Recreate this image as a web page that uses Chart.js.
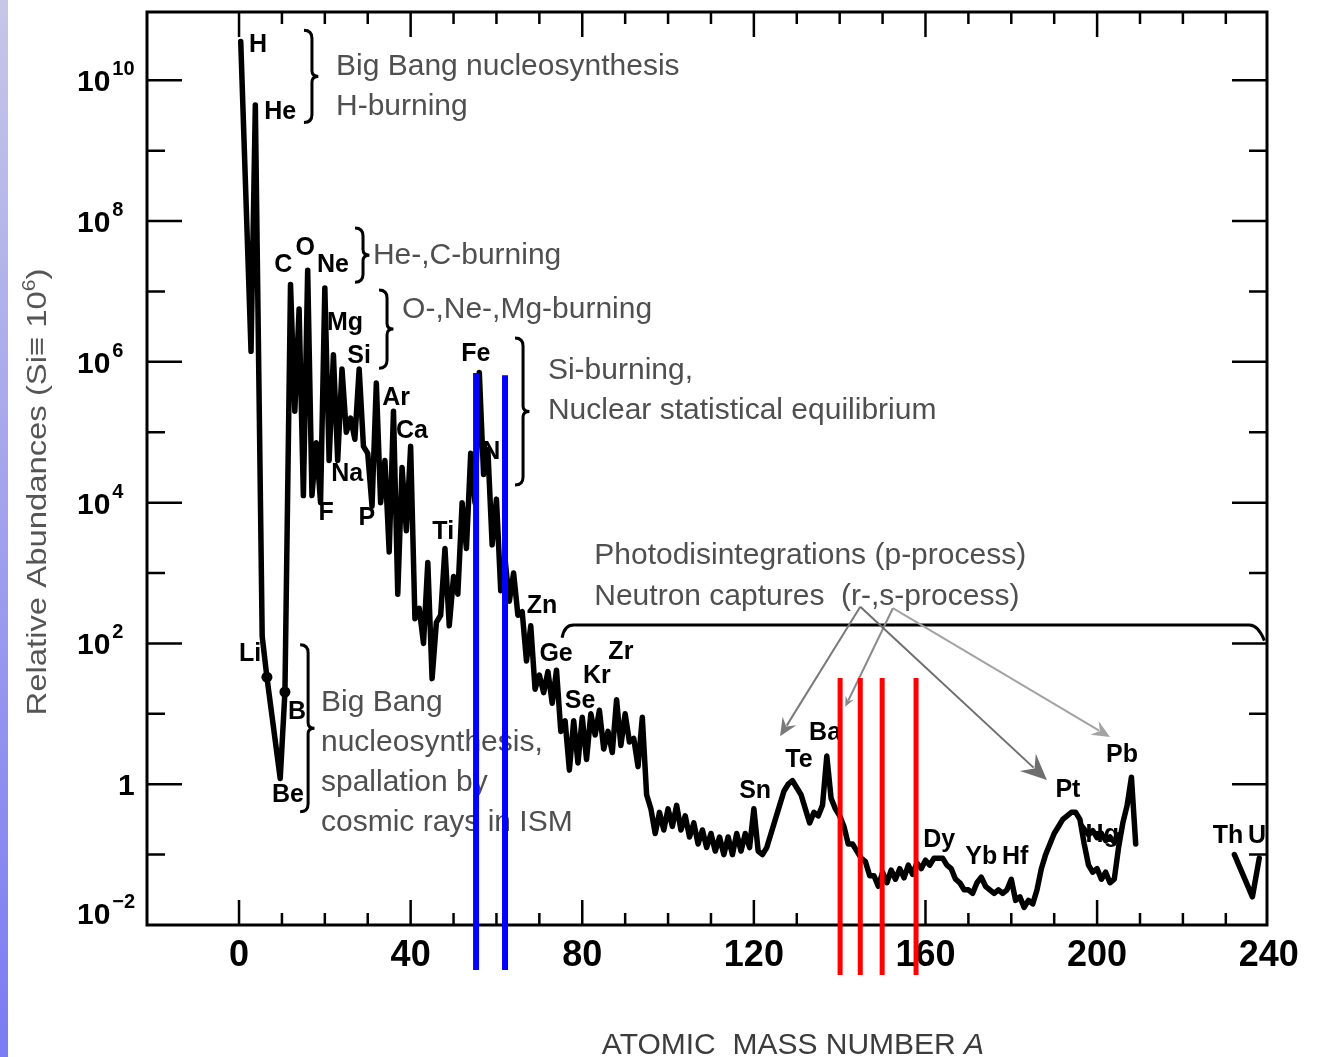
<!DOCTYPE html>
<html>
<head>
<meta charset="utf-8">
<title>Abundances of the elements</title>
<script src="https://cdn.jsdelivr.net/npm/chart.js@4.4.0/dist/chart.umd.min.js"></script>
<style>
  html, body { margin: 0; padding: 0; background: #fff; }
  body { width: 1321px; height: 1057px; position: relative; overflow: hidden; }
  .edge { position: absolute; left: 0; top: 0; width: 8px; height: 1057px; background: linear-gradient(#c6c6e8, #7b7bf3); }
  #abundanceChart { position: absolute; left: 0; top: 0; }
</style>
</head>
<body>
<div class="edge"></div>
<canvas id="abundanceChart" width="1321" height="1057"></canvas>
<script>
// Abundances are kept as log10 values (Si = 10^6)

// H, He, Li, Be, B - the lightest nuclei
const lightMass = [0.4, 2.8, 3.8, 5.4, 6.5, 9.6, 10.7];
const lightLogAbund = [10.55, 6.15, 9.65, 2.1, 1.52, 0.08, 1.31];

const massNumbers = [
  12, 13, 14, 15, 16, 17, 18, 19, 20, 21,
  22, 23, 24, 25, 26, 27, 28, 29, 30, 31,
  32, 33, 34, 35, 36, 37, 38, 39, 40, 41,
  42, 43, 44, 45, 46, 47, 48, 49, 50, 51,
  52, 53, 54, 55, 56, 57, 58, 59, 60, 61,
  62, 63, 64, 65, 66, 67, 68, 69, 70, 71,
  72, 73, 74, 75, 76, 77, 78, 79, 80, 81,
  82, 83, 84, 85, 86, 87, 88, 89, 90, 91,
  92, 93, 94, 95, 96, 97, 98, 99, 100, 101,
  102, 103, 104, 105, 106, 107, 108, 109, 110, 111,
  112, 113, 114, 115, 116, 117, 118, 119, 120, 121,
  122, 123, 124, 125, 126, 127, 128, 129, 130, 131,
  132, 133, 134, 135, 136, 137, 138, 139, 140, 141,
  142, 143, 144, 145, 146, 147, 148, 149, 150, 151,
  152, 153, 154, 155, 156, 157, 158, 159, 160, 161,
  162, 163, 164, 165, 166, 167, 168, 169, 170, 171,
  172, 173, 174, 175, 176, 177, 178, 179, 180, 181,
  182, 183, 184, 185, 186, 187, 188, 189, 190, 191,
  192, 193, 194, 195, 196, 197, 198, 199, 200, 201,
  202, 203, 204, 205, 206, 207, 208, 209
];
const logAbund = [
  7.1, 5.3, 6.75, 4.1, 7.3, 4.1, 4.85, 4.0, 7.05, 4.6,
  6.1, 4.6, 5.9, 5.0, 5.2, 4.9, 5.9, 4.8, 4.7, 3.95,
  5.7, 4.0, 4.6, 3.3, 5.3, 2.7, 4.5, 3.6, 4.8, 2.35,
  2.5, 2.0, 3.15, 1.5, 2.3, 2.4, 3.35, 2.25, 2.95, 2.7,
  4.0, 3.35, 4.7, 4.0, 5.85, 4.4, 4.75, 3.4, 4.05, 2.75,
  3.2, 2.6, 3.0, 2.4, 2.45, 1.75, 2.25, 1.35, 1.55, 1.3,
  1.6, 1.15, 1.62, 0.75, 0.9, 0.2, 0.9, 0.3, 0.95, 0.35,
  1.0, 0.7, 1.05, 0.5, 0.75, 0.45, 1.2, 0.55, 1.0, 0.6,
  0.65, 0.25, 0.95, -0.15, -0.35, -0.7, -0.4, -0.65, -0.35, -0.6,
  -0.3, -0.65, -0.45, -0.75, -0.55, -0.85, -0.65, -0.9, -0.7, -0.95,
  -0.75, -1.0, -0.75, -1.0, -0.7, -0.95, -0.7, -0.9, -0.35, -0.95,
  -1.0, -0.9, -0.7, -0.5, -0.3, -0.1, 0.0, 0.05, -0.05, -0.15,
  -0.35, -0.55, -0.4, -0.45, -0.3, 0.4, -0.2, -0.35, -0.45, -0.6,
  -0.85, -0.85, -0.95, -1.05, -1.1, -1.3, -1.3, -1.45, -1.25, -1.4,
  -1.22, -1.35, -1.2, -1.33, -1.15, -1.28, -1.12, -1.2, -1.08, -1.15,
  -1.05, -1.05, -1.05, -1.15, -1.2, -1.35, -1.4, -1.5, -1.5, -1.55,
  -1.4, -1.32, -1.45, -1.5, -1.55, -1.5, -1.55, -1.5, -1.35, -1.65,
  -1.6, -1.75, -1.65, -1.7, -1.5, -1.2, -1.0, -0.85, -0.7, -0.6,
  -0.5, -0.45, -0.4, -0.4, -0.5, -0.85, -1.15, -1.25, -1.2, -1.35,
  -1.25, -1.4, -1.35, -0.9, -0.55, -0.3, 0.1, -0.85
];

// upper (even-A) branch around Hg
const hgMass = [196.5, 198, 199, 200, 201, 202, 203, 204, 205];
const hgLogAbund = [-0.6, -0.72, -0.66, -0.76, -0.7, -0.8, -0.75, -0.82, -0.72];

// Th and U
const thuMass = [232, 236.2, 237.8];
const thuLogAbund = [-1.0, -1.6, -1.05];

// Li and B dots
const dotMass = [6.5, 10.7];
const dotLogAbund = [1.52, 1.31];

// highlighted mass numbers
const blueMarks = [55.25, 62.0];
const blueTop = [5.84, 5.81];
const redMarks = [140.1, 144.8, 149.9, 157.8];
const redTop = 1.51;

const xTicks = [0, 40, 80, 120, 160, 200, 240];
const xTickMarks = [0, 10, 20, 30, 40, 50, 60, 70, 80, 90, 100, 110, 120, 130, 140, 150, 160, 170, 180, 190, 200, 210, 220, 230];
const yTickExp = [-2, 0, 2, 4, 6, 8, 10];
const yTickMarks = [-1, 0, 1, 2, 3, 4, 5, 6, 7, 8, 9, 10];

const elementNames = ['H', 'He', 'Li', 'Be', 'B', 'C', 'O', 'Ne', 'Mg', 'Si', 'Na', 'F', 'P', 'Ar', 'Ca', 'Ti', 'Fe', 'Ni', 'Zn', 'Ge', 'Se', 'Kr', 'Zr', 'Sn', 'Te', 'Ba', 'Dy', 'Yb', 'Hf', 'Pt', 'Hg', 'Pb', 'Th', 'U'];
const elementMass = [4.4, 9.6, 2.6, 11.4, 13.5, 10.3, 15.4, 21.9, 24.7, 28.0, 25.2, 20.3, 29.8, 36.6, 40.3, 47.6, 55.2, 59.6, 70.6, 73.9, 79.5, 83.4, 89.0, 120.3, 130.5, 136.6, 163.2, 173.0, 180.9, 193.2, 201.2, 205.8, 230.5, 237.3];
const elementLog = [10.5, 9.55, 1.85, -0.15, 1.03, 7.37, 7.62, 7.37, 6.55, 6.08, 4.41, 3.85, 3.78, 5.49, 5.02, 3.58, 6.11, 4.72, 2.53, 1.85, 1.18, 1.54, 1.88, -0.10, 0.34, 0.73, -0.79, -1.03, -1.03, -0.08, -0.72, 0.41, -0.74, -0.74];

const noteLines = ['Big Bang nucleosynthesis', 'H-burning', 'He-,C-burning', 'O-,Ne-,Mg-burning', 'Si-burning,', 'Nuclear statistical equilibrium', 'Photodisintegrations (p-process)', 'Neutron captures  (r-,s-process)', 'Big Bang', 'nucleosynthesis,', 'spallation by', 'cosmic rays in ISM'];
const noteMass = [22.6, 22.6, 31.2, 38.0, 72.0, 72.0, 82.8, 82.8, 19.1, 19.1, 19.1, 19.1];
const noteLog = [10.07, 9.51, 7.39, 6.62, 5.76, 5.19, 3.13, 2.55, 1.04, 0.47, -0.10, -0.665];

const braceMass = [17.0, 28.9, 34.5, 66.2, 16.1];
const braceTop = [10.71, 7.9, 7.02, 6.34, 1.98];
const braceBottom = [9.4, 7.13, 5.91, 4.25, -0.39];

const arrowTails = [[144.8, 2.52], [152.4, 2.5], [144.8, 2.52], [152.4, 2.5]];
const arrowTips = [[126.1, 0.68], [141.3, 1.10], [188.3, 0.06], [203.0, 0.67]];
const arrowHeads = [18, 10, 26, 18];
const arrowColors = ['#7a7a7a', '#8a8a8a', '#6e6e6e', '#a3a3a3'];

const ff = '"Liberation Sans", Arial, Helvetica, sans-serif';

const toPoints = (xs, ls) => xs.map((a, i) => ({ x: a, y: Math.pow(10, ls[i]) }));

function drawBrace(ctx, x, top, bot, w) {
  const mid = (top + bot) / 2;
  ctx.beginPath();
  ctx.moveTo(x - w, top);
  ctx.quadraticCurveTo(x, top, x, top + w);
  ctx.lineTo(x, mid - w * 0.7);
  ctx.quadraticCurveTo(x, mid, x + w * 0.8, mid);
  ctx.quadraticCurveTo(x, mid, x, mid + w * 0.7);
  ctx.lineTo(x, bot - w);
  ctx.quadraticCurveTo(x, bot, x - w, bot);
  ctx.stroke();
}

function drawArrow(ctx, x1, y1, x2, y2, head, color) {
  const ang = Math.atan2(y2 - y1, x2 - x1);
  const c = Math.cos(ang), s = Math.sin(ang);
  ctx.strokeStyle = color;
  ctx.fillStyle = color;
  ctx.lineWidth = 2;
  ctx.beginPath();
  ctx.moveTo(x1, y1);
  ctx.lineTo(x2 - c * head * 0.7, y2 - s * head * 0.7);
  ctx.stroke();
  ctx.beginPath();
  ctx.moveTo(x2, y2);
  ctx.lineTo(x2 - head * c + head * 0.45 * s, y2 - head * s - head * 0.45 * c);
  ctx.lineTo(x2 - head * 0.65 * c, y2 - head * 0.65 * s);
  ctx.lineTo(x2 - head * c - head * 0.45 * s, y2 - head * s + head * 0.45 * c);
  ctx.closePath();
  ctx.fill();
}

// frame, ticks, labels and notes go under the datasets
const decorations = {
  id: 'decorations',
  beforeDatasetsDraw(chart) {
    const { ctx, chartArea: a, scales } = chart;
    const px = v => scales.x.getPixelForValue(v);
    const py = e => scales.y.getPixelForValue(Math.pow(10, e));
    ctx.save();

    ctx.strokeStyle = '#000';
    ctx.lineWidth = 3;
    ctx.strokeRect(a.left, a.top, a.right - a.left, a.bottom - a.top);
    ctx.lineWidth = 2.5;
    ctx.beginPath();
    xTickMarks.forEach(v => {
      const X = px(v), len = v % 40 === 0 ? 25 : 12;
      ctx.moveTo(X, a.bottom); ctx.lineTo(X, a.bottom - len);
      ctx.moveTo(X, a.top); ctx.lineTo(X, a.top + len);
    });
    yTickMarks.forEach(e => {
      const Y = py(e), len = e % 2 === 0 ? 35 : 18;
      ctx.moveTo(a.left, Y); ctx.lineTo(a.left + len, Y);
      ctx.moveTo(a.right, Y); ctx.lineTo(a.right - len, Y);
    });
    ctx.stroke();

    // tick labels
    ctx.fillStyle = '#000';
    ctx.font = 'bold 36px ' + ff;
    ctx.textAlign = 'center';
    ctx.textBaseline = 'middle';
    xTicks.forEach(v => ctx.fillText(String(v), px(v), a.bottom + 31));

    ctx.textAlign = 'left';
    ctx.textBaseline = 'alphabetic';
    yTickExp.forEach(e => {
      const Y = Math.min(py(e), a.bottom - 12);
      ctx.font = 'bold 30px ' + ff;
      if (e === 0) {
        ctx.fillText('1', a.left - 29, Y + 11);
        return;
      }
      ctx.fillText('10', a.left - 70, Y + 11);
      const w = ctx.measureText('10').width;
      ctx.font = 'bold 20px ' + ff;
      ctx.fillText(e < 0 ? '\u2212' + (-e) : String(e), a.left - 70 + w + 2, Y - 5);
    });

    // element symbols
    ctx.font = 'bold 25px ' + ff;
    ctx.textAlign = 'center';
    ctx.textBaseline = 'middle';
    elementNames.forEach((n, i) => ctx.fillText(n, px(elementMass[i]), py(elementLog[i])));

    // process notes
    ctx.font = '30px ' + ff;
    ctx.fillStyle = '#4f4f4f';
    ctx.textAlign = 'left';
    ctx.textBaseline = 'alphabetic';
    noteLines.forEach((t, i) => ctx.fillText(t, px(noteMass[i]), py(noteLog[i])));

    // braces
    ctx.strokeStyle = '#000';
    ctx.lineWidth = 3;
    braceMass.forEach((m, i) => drawBrace(ctx, px(m), py(braceTop[i]), py(braceBottom[i]), 8));

    // bracket over the heavy elements
    ctx.beginPath();
    ctx.moveTo(px(75.3), py(2.08));
    ctx.quadraticCurveTo(px(75.8), py(2.26), px(78), py(2.26));
    ctx.lineTo(px(235.5), py(2.26));
    ctx.quadraticCurveTo(px(237.5), py(2.26), px(239), py(2.04));
    ctx.stroke();

    arrowTails.forEach((t, i) => {
      const h = arrowTips[i];
      drawArrow(ctx, px(t[0]), py(t[1]), px(h[0]), py(h[1]), arrowHeads[i], arrowColors[i]);
    });

    // axis titles
    ctx.fillStyle = '#3c3c3c';
    ctx.textBaseline = 'alphabetic';
    ctx.font = '30px ' + ff;
    const xt = 'ATOMIC  MASS NUMBER ';
    const xw = ctx.measureText(xt).width;
    ctx.font = 'italic 30px ' + ff;
    const aw = ctx.measureText('A').width;
    const xs = (a.left + a.right) / 2 + 86 - (xw + aw) / 2;
    ctx.font = '30px ' + ff;
    ctx.fillText(xt, xs, 1054);
    ctx.font = 'italic 30px ' + ff;
    ctx.fillText('A', xs + xw, 1054);

    ctx.save();
    ctx.translate(46, 492);
    ctx.rotate(-Math.PI / 2);
    ctx.fillStyle = '#555';
    ctx.font = '28px ' + ff;
    const yt = 'Relative Abundances (Si\u2261 10';
    const yw = ctx.measureText(yt).width;
    ctx.font = '18px ' + ff;
    const sw = ctx.measureText('6').width;
    ctx.font = '28px ' + ff;
    const cw = ctx.measureText(')').width;
    const total = yw + sw + cw;
    ctx.scale(447 / total, 1);
    const y0 = -total / 2;
    ctx.fillText(yt, y0, 0);
    ctx.font = '18px ' + ff;
    ctx.fillText('6', y0 + yw, -11);
    ctx.font = '28px ' + ff;
    ctx.fillText(')', y0 + yw + sw, 0);
    ctx.restore();

    ctx.restore();
  }
};

const markerLine = (m, top, bottom, color, width) => ({
  data: [{ x: m, y: Math.pow(10, top) }, { x: m, y: Math.pow(10, bottom) }],
  borderColor: color,
  borderWidth: width,
  borderCapStyle: 'butt',
  pointRadius: 0,
  clip: false,
  order: 0
});

const curveStyle = {
  borderColor: '#000',
  borderWidth: 5.5,
  borderJoinStyle: 'round',
  borderCapStyle: 'round',
  pointRadius: 0,
  tension: 0,
  order: 1
};

new Chart(document.getElementById('abundanceChart'), {
  type: 'line',
  data: {
    datasets: [
      { label: 'Abundance', data: toPoints(lightMass.concat(massNumbers), lightLogAbund.concat(logAbund)), ...curveStyle },
      { label: 'Hg even', data: toPoints(hgMass, hgLogAbund), ...curveStyle },
      { label: 'Th, U', data: toPoints(thuMass, thuLogAbund), ...curveStyle },
      { label: 'Li, B', data: toPoints(dotMass, dotLogAbund), showLine: false, pointRadius: 5.5, backgroundColor: '#000', borderWidth: 0, order: 1 },
      ...blueMarks.map((m, i) => markerLine(m, blueTop[i], -2.64, '#0000ff', 6)),
      ...redMarks.map(m => markerLine(m, redTop, -2.71, '#ff0000', 5))
    ]
  },
  options: {
    responsive: false,
    animation: false,
    devicePixelRatio: 1,
    layout: { padding: { left: 147, right: 54, top: 12, bottom: 132 } },
    plugins: { legend: { display: false }, tooltip: { enabled: false } },
    scales: {
      x: { type: 'linear', display: false, min: -21.45, max: 239.6 },
      y: { type: 'logarithmic', display: false, min: 0.01, max: Math.pow(10, 10.97) }
    }
  },
  plugins: [decorations]
});
</script>
</body>
</html>
